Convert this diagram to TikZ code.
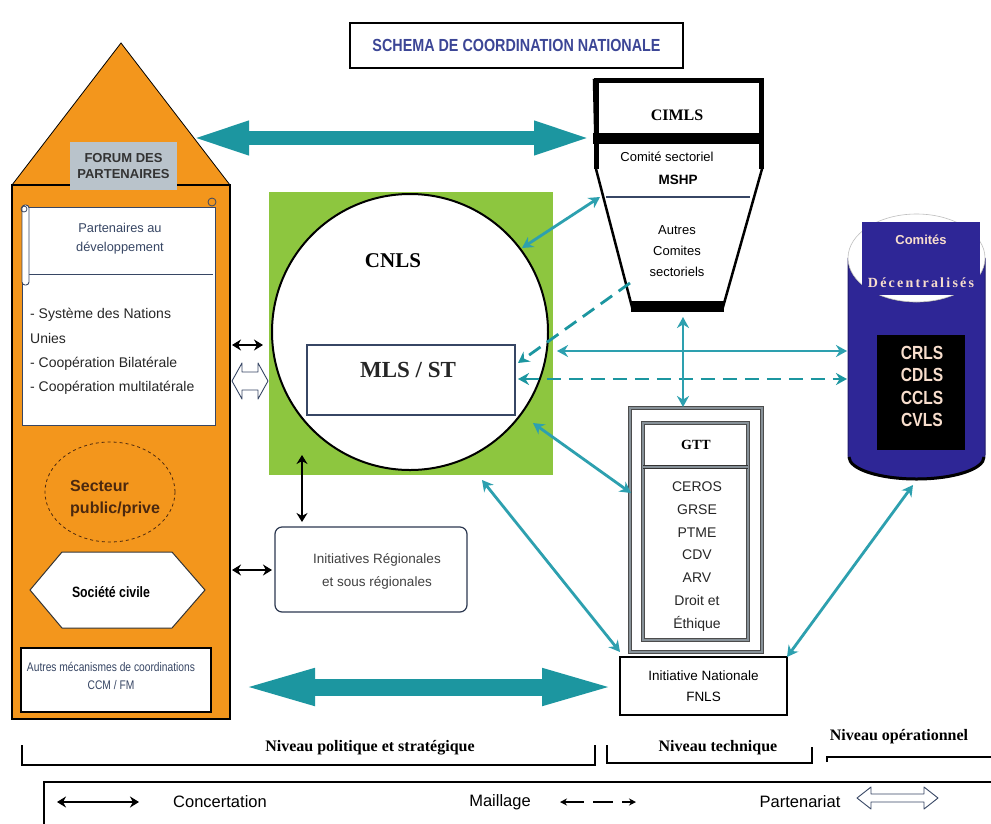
\documentclass[tikz,border=0pt]{standalone}
\usepackage{fontspec}
\setmainfont{Liberation Sans}
\newfontfamily\srf{Liberation Serif}
\newfontfamily\nrw[FakeStretch=0.82]{Liberation Sans}
\usetikzlibrary{arrows.meta,shapes.geometric,calc}
\definecolor{housec}{RGB}{243,150,28}
\definecolor{greenc}{RGB}{141,198,63}
\definecolor{tealc}{RGB}{28,150,160}
\definecolor{tealln}{RGB}{45,160,175}
\definecolor{navyc}{RGB}{46,38,150}
\definecolor{forumc}{RGB}{185,195,203}
\definecolor{titlec}{RGB}{60,70,150}
\definecolor{slatec}{RGB}{55,70,100}
\definecolor{peachc}{RGB}{248,222,205}
\definecolor{framec}{RGB}{135,145,152}
\definecolor{brownc}{RGB}{75,40,15}
\newcommand{\fsz}[2]{\fontsize{#1}{#2}\selectfont}
% hollow double arrow: x1, x2, y, head length, head half-height, shaft half-height
\newcommand{\hollowarr}[6]{%
  \filldraw[fill=white, draw=slatec, line width=0.9pt, line join=round]
    (#1,#3) -- ({#1+#4},{#3-#5}) -- ({#1+#4},{#3-#6}) -- ({#2-#4},{#3-#6})
    -- ({#2-#4},{#3-#5}) -- (#2,#3) -- ({#2-#4},{#3+#5}) -- ({#2-#4},{#3+#6})
    -- ({#1+#4},{#3+#6}) -- ({#1+#4},{#3+#5}) -- cycle;}
\begin{document}
\begin{tikzpicture}[x=1pt,y=-1pt,
  tealarr/.style={draw=tealln, line width=2.8pt,
    {Stealth[length=11pt,width=12pt]}-{Stealth[length=11pt,width=12pt]}},
  tealdash/.style={draw=tealc, line width=2.8pt, dash pattern=on 14pt off 8pt},
  blackarr/.style={draw=black, line width=2.2pt,
    {Stealth[length=9pt,width=11pt]}-{Stealth[length=9pt,width=11pt]}},
  bigarr/.style={draw=tealc, line width=#1},
  txt/.style={inner sep=0pt, align=center},
  dframe/.style={draw=black!70, line width=0.8pt, double=framec, double distance=2.5pt}
]
\useasboundingbox (0,0) rectangle (991,823);
\fill[white] (0,0) rectangle (991,823);

% ---------- title ----------
\node[draw=black, line width=1.2pt, minimum width=333pt, minimum height=45pt,
      inner sep=0pt, text=titlec, font=\nrw\bfseries\fsz{17.5}{20}]
  (title) at (516.5,45.5) {SCHEMA DE COORDINATION NATIONALE};

% ---------- forum house ----------
\filldraw[fill=housec, draw=black, line width=0.8pt] (12,185) -- (121,43) -- (230,185) -- cycle;
\filldraw[fill=housec, draw=black, line width=1.2pt] (12,185) rectangle (230,719);
\node[fill=forumc, minimum width=107pt, minimum height=48pt, inner sep=0pt, align=center,
      font=\bfseries\fsz{13}{16}, text=black!80]
  (forum) at (123.5,166) {FORUM DES\\PARTENAIRES};

% partners panel with its scroll heading
\filldraw[fill=white, draw=slatec, line width=1pt] (22,207) rectangle (215,425);
\draw[slatec, line width=1pt] (29,274) -- (213,274);
\filldraw[fill=white, draw=slatec, line width=0.9pt, rounded corners=3pt] (22,205) rectangle (29,285);
\draw[slatec, line width=0.8pt] (24,209) circle[radius=3];
\draw[slatec, line width=0.8pt] (212,202) circle[radius=4];
\node[txt, text=slatec, font=\fsz{12.8}{19}] (partdev) at (120,239) {Partenaires au\\développement};
\node[txt, anchor=west, align=left, font=\fsz{14}{24.4}, text=black!85]
  (nations) at (30,351.5) {- Système des Nations\\Unies\\- Coopération Bilatérale\\- Coopération multilatérale};

% private sector
\node[ellipse, draw=brownc, dashed, line width=0.8pt, fill=housec,
      minimum width=130pt, minimum height=100pt] (secteur) at (110,492) {};
\node[txt, anchor=west, align=left, font=\bfseries\fsz{16}{22}, text=brownc]
  (secteurtxt) at (70,499) {Secteur\\public/prive};

% civil society
\filldraw[fill=white, draw=black!80, line width=1pt]
  (30,590) -- (62,552) -- (172,552) -- (205,590) -- (172,628) -- (62,628) -- cycle;
\node[txt, font=\nrw\bfseries\fsz{15}{16}] (civile) at (111,592) {Société civile};

% other mechanisms
\node[draw=black, line width=1.3pt, fill=white, minimum width=190pt, minimum height=64pt,
      inner sep=0pt] (autres) at (116,680) {};
\node[txt, font=\nrw\fsz{12.5}{18}, text=slatec] (autrestxt) at (111,676)
  {Autres mécanismes de coordinations\\CCM / FM};

% ---------- CNLS ----------
\fill[greenc] (269,192) rectangle (553,475);
\node (green) at (411,333.5) [minimum width=284pt, minimum height=283pt, inner sep=0pt] {};
\filldraw[fill=white, draw=black, line width=2pt] (410,332) circle[radius=138];
\node (cnls) at (410,332) [circle, minimum size=276pt, inner sep=0pt] {};
\node[txt, font=\srf\bfseries\fsz{21}{24}] (cnlstxt) at (393,261) {CNLS};
\node[draw=slatec, line width=1.6pt, fill=white, minimum width=208pt, minimum height=70pt,
      inner sep=0pt] (mls) at (411,380) {};
\node[txt, font=\srf\bfseries\fsz{23}{26}, text=black!85] (mlstxt) at (408,370) {MLS / ST};

% regional initiatives
\node[draw=slatec!80!black, line width=1.2pt, rounded corners=7pt, fill=white,
      minimum width=192pt, minimum height=85pt, inner sep=0pt] (regio) at (371,569.5) {};
\node[txt, font=\fsz{13.5}{23}, text=black!75] (regiotxt) at (377,571.5)
  {Initiatives Régionales\\et sous régionales};

% ---------- CIMLS ----------
\filldraw[fill=white, draw=black, line width=2.5pt, line join=miter]
  (594,80) -- (762,80) -- (762,169) -- (723,307) -- (632,307) -- (596,169) -- cycle;
\draw[black, line width=5pt] (596,140) -- (596,169);
\draw[black, line width=5pt] (761,140) -- (761,169);
\draw[black, line width=5pt] (596,80) rectangle (761,140);
\fill[black] (593,133) rectangle (764,144);
\fill[black] (631,301) rectangle (724,312);
\draw[slatec, line width=1.2pt] (606,197) -- (750,197);
\node (ciml) at (678,195) [minimum width=170pt, minimum height=230pt, inner sep=0pt] {};
\node[txt, font=\srf\bfseries\fsz{16}{18}] (cimltxt) at (677,115) {CIMLS};
\node[txt, font=\fsz{13}{16}] (msh1) at (667,157) {Comité sectoriel};
\node[txt, font=\bfseries\fsz{13.5}{16}] (msh2) at (678,180) {MSHP};
\node[txt, font=\fsz{13}{21}] (autcom) at (677,251) {Autres\\Comites\\sectoriels};

% ---------- decentralised committees ----------
\filldraw[fill=navyc, draw=navyc!70!black, line width=1pt]
  (848,258) -- (848,455) arc[start angle=180, end angle=0, x radius=68.5, y radius=23]
  -- (985,258) arc[start angle=0, end angle=180, x radius=68.5, y radius=44] -- cycle;
\draw[black, line width=3pt] (849,457) arc[start angle=180, end angle=0, x radius=67.5, y radius=22];
\filldraw[fill=white, draw=black!25, line width=0.6pt] (916.5,258) ellipse[x radius=68.5, y radius=44];
\fill[navyc] (862,222) rectangle (980,295);
\node (cyl) at (916.5,345) [minimum width=137pt, minimum height=270pt, inner sep=0pt] {};
\node[txt, font=\bfseries\fsz{13}{15}, text=peachc] (comites) at (921,240) {Comités};
\node[txt, font=\srf\bfseries\fsz{14}{16}\addfontfeatures{LetterSpace=16}, text=peachc]
  (decent) at (921,283) {Décentralisés};
\fill[black] (877,335) rectangle (965,450);
\node[txt, font=\nrw\bfseries\fsz{19}{22.3}, text=peachc] (crls) at (922,386.5)
  {CRLS\\CDLS\\CCLS\\CVLS};

% ---------- GTT ----------
\draw[dframe] (630,408) rectangle (762,652);
\filldraw[fill=white, dframe] (643,423) rectangle (748,640);
\draw[draw=black!80, line width=0.8pt, double=framec, double distance=1.5pt] (643,467) -- (748,467);
\node (gtt) at (696,530) [minimum width=132pt, minimum height=244pt, inner sep=0pt] {};
\node[txt, font=\srf\bfseries\fsz{14}{16}] (gtttxt) at (696,445) {GTT};
\node[txt, font=\fsz{14}{22.8}, text=black!85] (gttlist) at (697,556.5)
  {CEROS\\GRSE\\PTME\\CDV\\ARV\\Droit et\\Éthique};

% ---------- national initiative ----------
\node[draw=black, line width=1.3pt, fill=white, minimum width=167pt, minimum height=58pt,
      inner sep=0pt, align=center, font=\fsz{13.5}{21}] (fnls) at (703.5,686)
  {Initiative Nationale\\FNLS};

% ---------- connector end points ----------
\coordinate (houseT) at (190,138);
\coordinate (cimlT) at (593,138);
\coordinate (houseB) at (237,687);
\coordinate (fnlsL) at (620,687);
\coordinate (mshpL) at (600,197);
\coordinate (cnlsNE) at (522,248);
\coordinate (cimlSW) at (630,283);
\coordinate (mlsE1) at (518,363);
\coordinate (greenE) at (557,351);
\coordinate (cylW1) at (847,351);
\coordinate (mlsE2) at (518,379);
\coordinate (cylW2) at (847,379);
\coordinate (cimlS) at (683,317);
\coordinate (gttN) at (683,407);
\coordinate (cnlsSE) at (533,423);
\coordinate (gttW) at (631,493);
\coordinate (greenS) at (482,480);
\coordinate (fnlsNW) at (620,652);
\coordinate (fnlsNE) at (787,657);
\coordinate (cylS) at (913,485);
\coordinate (greenSW) at (302,455);
\coordinate (regioN) at (302,522);
\coordinate (houseE1) at (232,345);
\coordinate (greenW1) at (263,345);
\coordinate (houseE2) at (232,570);
\coordinate (regioW) at (272,570);

% ---------- connectors ----------
\draw[bigarr=14pt, {Triangle[length=59pt,width=30pt]}-{Triangle[length=59pt,width=30pt]}] (houseT) -- (cimlT);
\draw[bigarr=17pt, {Triangle[length=78pt,width=32pt]}-{Triangle[length=78pt,width=32pt]}] (houseB) -- (fnlsL);
\draw[tealarr] (mshpL) -- (cnlsNE);
\draw[tealdash, -{Stealth[length=11pt,width=12pt]}] (cimlSW) -- (mlsE1);
\draw[tealarr] (greenE) -- (cylW1);
\draw[tealdash, {Stealth[length=11pt,width=12pt]}-{Stealth[length=11pt,width=12pt]}] (mlsE2) -- (cylW2);
\draw[tealarr] (cimlS) -- (gttN);
\draw[tealarr] (cnlsSE) -- (gttW);
\draw[tealarr] (greenS) -- (fnlsNW);
\draw[tealarr] (fnlsNE) -- (cylS);
\draw[blackarr] (greenSW) -- (regioN);
\draw[blackarr] (houseE1) -- (greenW1);
\draw[blackarr] (houseE2) -- (regioW);
\hollowarr{232}{268}{381}{10}{18}{9}

% ---------- levels ----------
\draw[line width=1.3pt] (22,745) -- (22,765) -- (595,765) -- (595,745);
\draw[line width=1.3pt] (607,745) -- (607,763) -- (812,763) -- (812,747);
\draw[line width=1.3pt] (827,762) -- (827,757) -- (991,757);
\node[txt, font=\srf\bfseries\fsz{16}{18}] (lvl1) at (370,748) {Niveau politique et stratégique};
\node[txt, font=\srf\bfseries\fsz{16}{18}] (lvl2) at (718,748) {Niveau technique};
\node[txt, font=\srf\bfseries\fsz{16}{18}] (lvl3) at (899,737) {Niveau opérationnel};

% ---------- legend ----------
\draw[line width=1.3pt] (44,830) -- (44,782) -- (995,782);
\coordinate (lgA1) at (57,802);
\coordinate (lgA2) at (139,802);
\draw[blackarr, line width=2.4pt] (lgA1) -- (lgA2);
\node[txt, font=\fsz{16.5}{18}] (lgconc) at (220,802) {Concertation};
\node[txt, font=\fsz{16.5}{18}] (lgmail) at (500,802) {Maillage};
\coordinate (lgB1) at (560,802);
\coordinate (lgB2) at (636,802);
\draw[black, line width=1.6pt, dash pattern=on 20pt off 9pt,
  {Stealth[length=7pt,width=7pt]}-{Stealth[length=7pt,width=7pt]}] (lgB1) -- (lgB2);
\node[txt, font=\fsz{16.5}{18}] (lgpart) at (800,802) {Partenariat};
\hollowarr{857}{938}{798}{14}{11}{4}
\end{tikzpicture}
\end{document}
